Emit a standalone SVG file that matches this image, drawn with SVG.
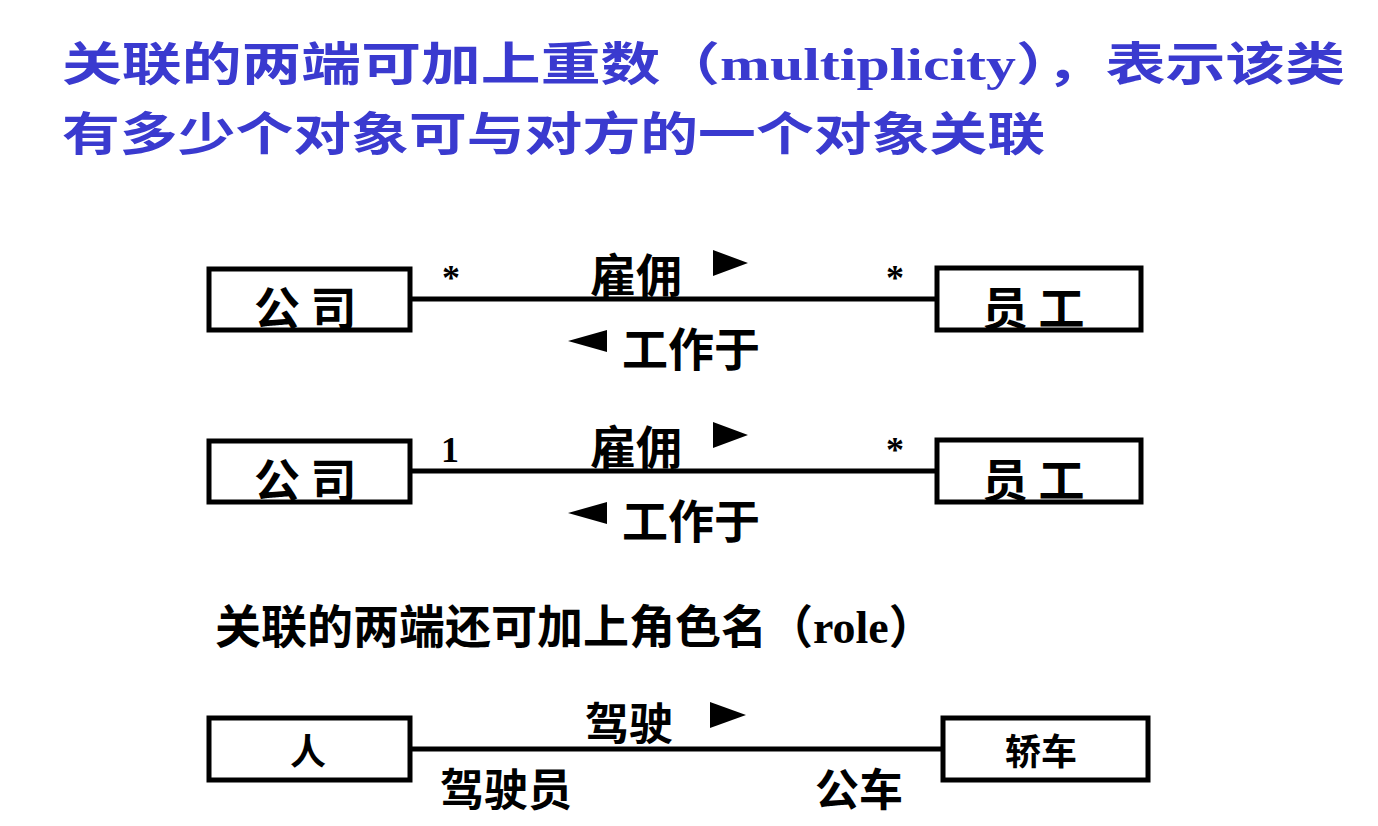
<svg xmlns="http://www.w3.org/2000/svg" width="1378" height="826" viewBox="0 0 1378 826">
<style>
.t{font-family:"Noto Sans CJK SC","Liberation Sans",sans-serif;font-weight:bold;fill:#000}
.title{font-family:"Noto Sans CJK SC","Liberation Serif",sans-serif;font-weight:bold;fill:#3a3acf;font-size:46px}
.s{font-family:"Liberation Serif",serif;font-weight:bold;font-size:36px}
.box{fill:#fff;stroke:#000;stroke-width:5}
.ln{stroke:#000;stroke-width:5}
</style>
<rect width="1378" height="826" fill="#fff"/>
<text class="title" x="62" y="80" textLength="1283" lengthAdjust="spacingAndGlyphs">关联的两端可加上重数（<tspan font-family="Liberation Serif">multiplicity</tspan>），表示该类</text>
<text class="title" x="62" y="150" textLength="983" lengthAdjust="spacingAndGlyphs">有多少个对象可与对方的一个对象关联</text>
<g id="connectors">
<line class="ln" x1="410" y1="299" x2="937" y2="299"/>
<line class="ln" x1="410" y1="471" x2="937" y2="471"/>
<line class="ln" x1="410" y1="749" x2="943" y2="749"/>
<path d="M713 250 L748 263 L713 276Z M607 330 L568 341 L607 352Z"/>
<path d="M713 422 L748 435 L713 448Z M607 502 L568 513 L607 524Z"/>
<path d="M710 702 L746 715 L710 728Z"/>
<text class="s" x="442" y="290">*</text><text class="s" x="886" y="290">*</text>
<text class="s" x="441" y="462">1</text><text class="s" x="886" y="462">*</text>
<text class="t" x="590" y="292" font-size="46">雇佣</text>
<text class="t" x="622" y="366" font-size="46">工作于</text>
<text class="t" x="590" y="464" font-size="46">雇佣</text>
<text class="t" x="622" y="538" font-size="46">工作于</text>
<text class="t" x="585" y="740" font-size="44">驾驶</text>
<text class="t" x="440" y="806" font-size="44">驾驶员</text>
<text class="t" x="815" y="806" font-size="44">公车</text>
</g>
<g id="n1"><rect class="box" x="209" y="269" width="201" height="61"/><text class="t" x="254" y="325" font-size="46">公 司</text></g>
<g id="n2"><rect class="box" x="937" y="268" width="204" height="62"/><text class="t" x="982" y="325" font-size="46">员 工</text></g>
<g id="n3"><rect class="box" x="209" y="441" width="201" height="61"/><text class="t" x="254" y="497" font-size="46">公 司</text></g>
<g id="n4"><rect class="box" x="937" y="440" width="204" height="62"/><text class="t" x="982" y="497" font-size="46">员 工</text></g>
<text class="t" x="215" y="643" font-size="46">关联的两端还可加上角色名（<tspan font-family="Liberation Serif">role</tspan>）</text>
<g id="n5"><rect class="box" x="209" y="718" width="201" height="62"/><text class="t" x="290" y="765" font-size="36">人</text></g>
<g id="n6"><rect class="box" x="943" y="718" width="205" height="62"/><text class="t" x="1005" y="765" font-size="36">轿车</text></g>
</svg>
